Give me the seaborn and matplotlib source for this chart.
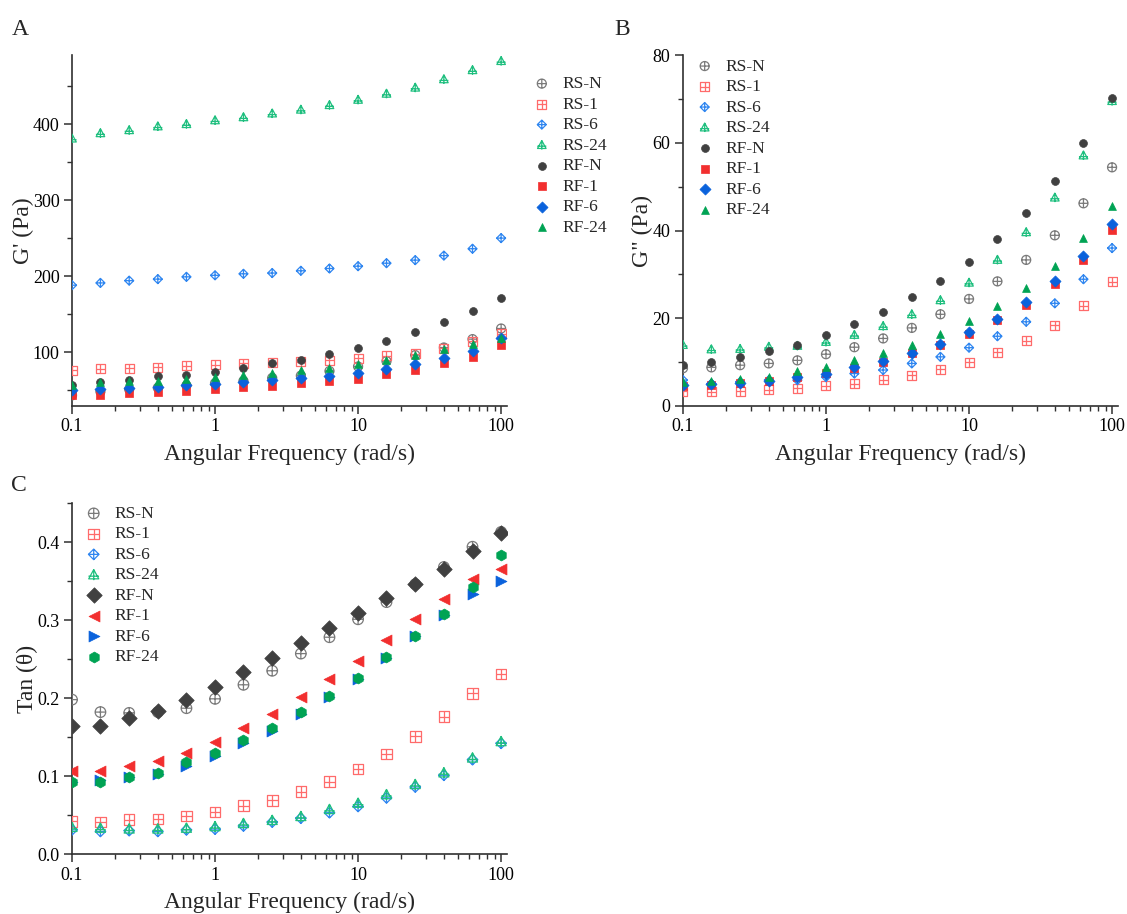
import numpy as np
import matplotlib
matplotlib.use("Agg")
import matplotlib.pyplot as plt
import seaborn as sns
import pandas as pd
from matplotlib.path import Path
from matplotlib.ticker import FixedLocator, MultipleLocator, NullFormatter

# ---------------- data ----------------
freq = [0.1, 0.158, 0.251, 0.398, 0.631, 1.0, 1.58, 2.51, 3.98, 6.31,
        10.0, 15.8, 25.1, 39.8, 63.1, 100.0]
series = ["RS-N", "RS-1", "RS-6", "RS-24", "RF-N", "RF-1", "RF-6", "RF-24"]

# Panel A: G' (Pa)
gp_rs_n = [43, 48, 51, 53, 56, 59, 62, 66, 69, 75, 81, 88, 96, 106, 117, 131]
gp_rs_1 = [76, 78, 79, 80, 82, 83, 85, 86, 87, 89, 92, 95, 98, 105, 114, 124]
gp_rs_6 = [188, 191, 194, 196, 199, 201, 203, 204, 207, 210, 213, 217, 221, 227, 236, 250]
gp_rs_24 = [381, 388, 392, 397, 400, 405, 409, 414, 419, 425, 432, 440, 448, 459, 471, 483]
gp_rf_n = [57, 60, 63, 68, 70, 74, 79, 85, 90, 98, 106, 115, 127, 139, 154, 171]
gp_rf_1 = [43, 44, 46, 47, 49, 51, 54, 55, 59, 62, 65, 71, 76, 85, 93, 109]
gp_rf_6 = [50, 51, 53, 54, 56, 58, 61, 63, 66, 69, 73, 78, 84, 92, 102, 118]
gp_rf_24 = [57, 60, 62, 62, 64, 67, 70, 72, 76, 79, 84, 89, 96, 104, 111, 119]

# Panel B: G'' (Pa)
gpp_rs_n = [8.6, 8.8, 9.3, 9.7, 10.4, 11.8, 13.4, 15.4, 17.8, 20.9, 24.4, 28.4, 33.3, 38.9, 46.2, 54.4]
gpp_rs_1 = [3.4, 3.2, 3.4, 3.7, 4.1, 4.6, 5.1, 6.0, 7.0, 8.4, 10.0, 12.2, 14.9, 18.4, 22.9, 28.3]
gpp_rs_6 = [5.9, 5.1, 5.5, 5.9, 5.9, 6.6, 7.4, 8.2, 9.7, 11.2, 13.3, 15.9, 19.2, 23.4, 28.9, 36.0]
gpp_rs_24 = [13.9, 12.9, 13.0, 13.5, 13.7, 14.6, 16.2, 18.2, 20.9, 24.1, 28.1, 33.3, 39.6, 47.5, 57.1, 69.5]
gpp_rf_n = [9.4, 10.1, 11.2, 12.5, 14.0, 16.2, 18.7, 21.4, 24.8, 28.6, 32.9, 38.1, 44.1, 51.2, 60.0, 70.2]
gpp_rf_1 = [4.5, 4.7, 5.3, 5.7, 6.6, 7.6, 8.7, 10.1, 12.0, 14.0, 16.4, 19.6, 23.0, 27.7, 33.3, 40.2]
gpp_rf_6 = [4.7, 5.0, 5.3, 5.7, 6.5, 7.4, 8.8, 10.2, 12.0, 14.2, 16.8, 19.9, 23.8, 28.5, 34.3, 41.4]
gpp_rf_24 = [5.5, 5.7, 6.2, 6.6, 8.0, 8.9, 10.4, 12.0, 14.0, 16.4, 19.4, 22.9, 27.0, 32.0, 38.2, 45.6]

# Panel C: Tan (theta)
tan_rs_n = [0.198, 0.182, 0.181, 0.182, 0.187, 0.199, 0.217, 0.235, 0.257, 0.278, 0.301, 0.323, 0.346, 0.368, 0.394, 0.413]
tan_rs_1 = [0.042, 0.041, 0.044, 0.045, 0.049, 0.054, 0.062, 0.069, 0.080, 0.093, 0.109, 0.128, 0.151, 0.176, 0.206, 0.231]
tan_rs_6 = [0.031, 0.029, 0.030, 0.029, 0.031, 0.032, 0.036, 0.041, 0.046, 0.053, 0.061, 0.072, 0.086, 0.101, 0.121, 0.142]
tan_rs_24 = [0.034, 0.033, 0.032, 0.032, 0.033, 0.035, 0.039, 0.043, 0.048, 0.057, 0.065, 0.076, 0.089, 0.104, 0.123, 0.144]
tan_rf_n = [0.164, 0.164, 0.174, 0.184, 0.198, 0.214, 0.234, 0.251, 0.271, 0.290, 0.309, 0.328, 0.346, 0.366, 0.388, 0.412]
tan_rf_1 = [0.106, 0.107, 0.113, 0.119, 0.130, 0.144, 0.161, 0.179, 0.201, 0.224, 0.248, 0.274, 0.301, 0.327, 0.353, 0.365]
tan_rf_6 = [0.093, 0.095, 0.099, 0.103, 0.113, 0.126, 0.142, 0.158, 0.179, 0.201, 0.225, 0.251, 0.279, 0.306, 0.334, 0.350]
tan_rf_24 = [0.092, 0.092, 0.099, 0.104, 0.118, 0.129, 0.146, 0.161, 0.182, 0.202, 0.226, 0.252, 0.279, 0.308, 0.343, 0.384]

panel_a = [gp_rs_n, gp_rs_1, gp_rs_6, gp_rs_24, gp_rf_n, gp_rf_1, gp_rf_6, gp_rf_24]
panel_b = [gpp_rs_n, gpp_rs_1, gpp_rs_6, gpp_rs_24, gpp_rf_n, gpp_rf_1, gpp_rf_6, gpp_rf_24]
panel_c = [tan_rs_n, tan_rs_1, tan_rs_6, tan_rs_24, tan_rf_n, tan_rf_1, tan_rf_6, tan_rf_24]

colors = ["#7a7a7a", "#ff6b6b", "#2f86f0", "#1fbf7f",
          "#404040", "#f22f2f", "#0a62dc", "#00a354"]

# ---------------- marker paths ----------------
def compound(shape_verts, lines):
    paths = [Path(list(shape_verts) + [shape_verts[0]],
                  [Path.MOVETO] + [Path.LINETO] * (len(shape_verts) - 1) + [Path.CLOSEPOLY])]
    for (a, b) in lines:
        paths.append(Path([a, b], [Path.MOVETO, Path.LINETO]))
    return Path.make_compound_path(*paths)

plus = [((-1, 0), (1, 0)), ((0, -1), (0, 1))]
circ = Path.make_compound_path(Path.unit_circle(),
                               Path([(-1, 0), (1, 0)], [Path.MOVETO, Path.LINETO]),
                               Path([(0, -1), (0, 1)], [Path.MOVETO, Path.LINETO]))
sq = compound([(-1, -1), (1, -1), (1, 1), (-1, 1)], plus)
dia = compound([(0, 1), (1, 0), (0, -1), (-1, 0)], plus)
tri = compound([(0, 1), (-0.95, -0.75), (0.95, -0.75)],
               [((-1.0, -0.25), (1.0, -0.25)), ((0, 1), (0, -1))])

open_markers = [circ, sq, dia, tri]
filled_ab = ["o", "s", "D", "^"]
filled_c = ["D", "<", ">", "h"]

# ---------------- style ----------------
sns.set_theme(style="ticks")
plt.rcParams["font.family"] = ["Liberation Serif", "DejaVu Serif"]
plt.rcParams["axes.edgecolor"] = "#303030"
plt.rcParams["axes.linewidth"] = 1.2
plt.rcParams["xtick.color"] = "#303030"
plt.rcParams["ytick.color"] = "#303030"
plt.rcParams["xtick.labelcolor"] = "black"
plt.rcParams["ytick.labelcolor"] = "black"

fig = plt.figure(figsize=(11.27, 9.14), dpi=100)
axA = fig.add_axes([0.0639, 0.5558, 0.386, 0.384])
axB = fig.add_axes([0.606, 0.5558, 0.386, 0.384])
axC = fig.add_axes([0.0639, 0.0656, 0.386, 0.384])


def draw(ax, data, filled, s_open, s_fill):
    for i, name in enumerate(series):
        df = pd.DataFrame({"freq": freq, "val": data[i]})
        if i < 4:
            sns.scatterplot(data=df, x="freq", y="val", ax=ax, marker=open_markers[i],
                            s=s_open, facecolors="none", edgecolors=colors[i],
                            linewidths=0.9, label=name, zorder=3)
        else:
            sns.scatterplot(data=df, x="freq", y="val", ax=ax, marker=filled[i - 4],
                            s=s_fill, color=colors[i], edgecolor=colors[i],
                            linewidth=0.5, label=name, zorder=4)


def style_axis(ax, ylabel, ymin, ymax, ylab_x):
    ax.set_xscale("log")
    ax.set_xlim(0.1, 110)
    ax.set_ylim(ymin, ymax)
    ax.set_xticks([0.1, 1, 10, 100])
    ax.set_xticklabels(["0.1", "1", "10", "100"])
    ax.xaxis.set_minor_formatter(NullFormatter())
    for sp in ["top", "right"]:
        ax.spines[sp].set_visible(False)
    ax.tick_params(axis="both", which="major", direction="out", length=6, width=1.1,
                   labelsize=13, pad=3)
    ax.tick_params(axis="both", which="minor", direction="out", length=3.5, width=1.0)
    ax.set_xlabel("Angular Frequency (rad/s)", fontsize=17, labelpad=6)
    ax.set_ylabel(ylabel, fontsize=17)
    ax.yaxis.set_label_coords(ylab_x, 0.5)


legend_kw = dict(frameon=False, fontsize=12.5, handletextpad=0.6, labelspacing=0.25,
                 borderaxespad=0.0, handlelength=1.2)

# Panel A
draw(axA, panel_a, filled_ab, 42, 32)
style_axis(axA, "G' (Pa)", 29, 491, -0.087)
axA.set_yticks([100, 200, 300, 400])
axA.yaxis.set_minor_locator(FixedLocator([50, 150, 250, 350, 450]))
axA.legend(loc="upper left", bbox_to_anchor=(1.04, 0.96), **legend_kw)

# Panel B
draw(axB, panel_b, filled_ab, 42, 32)
style_axis(axB, 'G" (Pa)', 0, 80, -0.069)
axB.set_yticks([0, 20, 40, 60, 80])
axB.yaxis.set_minor_locator(MultipleLocator(10))
axB.legend(loc="upper left", bbox_to_anchor=(0.01, 1.01), **legend_kw)

# Panel C
draw(axC, panel_c, filled_c, 58, 62)
style_axis(axC, "Tan (θ)", 0, 0.45, -0.079)
axC.set_yticks([0.0, 0.1, 0.2, 0.3, 0.4])
axC.set_yticklabels(["0.0", "0.1", "0.2", "0.3", "0.4"])
axC.yaxis.set_minor_locator(MultipleLocator(0.05))
axC.legend(loc="upper left", bbox_to_anchor=(0.01, 1.012), **legend_kw)

fig.text(0.010, 0.962, "A", fontsize=17)
fig.text(0.545, 0.962, "B", fontsize=17)
fig.text(0.010, 0.463, "C", fontsize=17)

fig.savefig("out.png", dpi=100)
